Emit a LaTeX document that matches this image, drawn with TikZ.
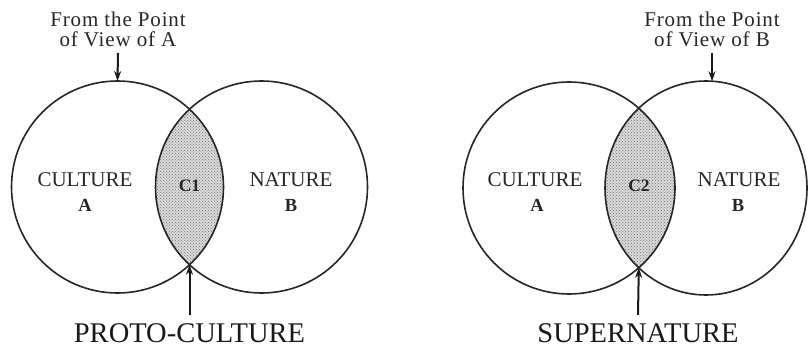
\documentclass[tikz,border=0pt]{standalone}
\usepackage{fontspec}
\setmainfont{Liberation Serif}
\usetikzlibrary{patterns,arrows.meta}
\begin{document}
\begin{tikzpicture}[x=1pt,y=-1pt,
  ring/.style={line width=1.6pt, draw=black!85},
  lensfill/.style={fill=gray!30},
  lensdots/.style={pattern=crosshatch dots, pattern color=black!55},
  pointer/.style={line width=2pt, draw=black!90, -{Stealth[length=10pt,width=7pt]}},
  small/.style={font=\fontsize{21}{20.5}\selectfont\addfontfeatures{LetterSpace=4}, inner sep=0pt, align=center, text=black!85},
  lbl/.style={font=\fontsize{21}{22}\selectfont, inner sep=0pt, anchor=base, text=black!85},
  bold/.style={font=\fontsize{18.5}{20}\selectfont\bfseries, inner sep=0pt, anchor=base, text=black!85},
  big/.style={font=\fontsize{28.5}{30}\selectfont, inner sep=0pt, text depth=0pt, anchor=base, text=black!90}]
\useasboundingbox (0,0) rectangle (808,347);
\fill[white] (0,0) rectangle (808,347);

% ---------- left diagram ----------
\begin{scope}
  \clip (117.5,187) circle[radius=106];
  \fill[lensfill] (261.5,187) circle[radius=106];
  \fill[lensdots] (261.5,187) circle[radius=106];
\end{scope}
\draw[ring] (117.5,187) circle[radius=106];
\draw[ring] (261.5,187) circle[radius=106];
\coordinate (topLA) at (117.5,81);
\coordinate (lowL) at (189.5,264.8);

\node[small, anchor=base] (povA) at (118,47) {From the Point\\of View of A};
\draw[pointer] (118,53) -- (topLA);

\node[lbl] (cultL) at (85,187) {CULTURE};
\node[bold] (aL) at (85,212) {A};
\node[lbl] (natL) at (291,187) {NATURE};
\node[bold] (bL) at (291,212) {B};
\node[bold, font=\fontsize{17.5}{19}\selectfont\bfseries] (c1) at (189.5,192) {C1};

\node[big] (proto) at (189.5,342) {PROTO-CULTURE};
\draw[pointer] (proto.north) ++(0,-8) coordinate (protoTop) -- (lowL);

% ---------- right diagram ----------
\begin{scope}
  \clip (569,188) circle[radius=106];
  \fill[lensfill] (706,188) ellipse[x radius=101, y radius=107];
  \fill[lensdots] (706,188) ellipse[x radius=101, y radius=107];
\end{scope}
\draw[ring] (569,188) circle[radius=106];
\draw[ring] (706,188) ellipse[x radius=101, y radius=107];
\coordinate (topRB) at (712,81.2);
\coordinate (lowR) at (638.8,267.8);

\node[small, anchor=base] (povB) at (712,47) {From the Point\\of View of B};
\draw[pointer] (712,53) -- (topRB);

\node[lbl] (cultR) at (535,187) {CULTURE};
\node[bold] (aR) at (537,212) {A};
\node[lbl] (natR) at (739,187) {NATURE};
\node[bold] (bR) at (738,212) {B};
\node[bold, font=\fontsize{17.5}{19}\selectfont\bfseries] (c2) at (639,192) {C2};

\node[big] (supern) at (638,342) {SUPERNATURE};
\draw[pointer] (supern.north) ++(0,-8) coordinate (superTop) -- (lowR);
\end{tikzpicture}
\end{document}
